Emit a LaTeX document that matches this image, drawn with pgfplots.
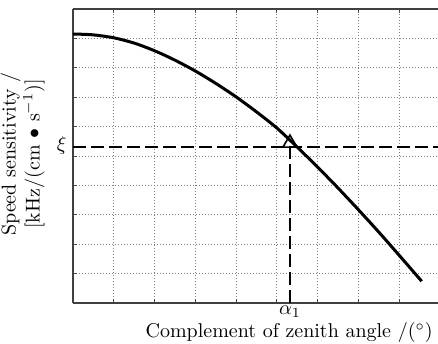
\documentclass[border=0pt]{standalone}
\usepackage{pgfplots}
\pgfplotsset{compat=1.18}
\begin{document}
\begin{tikzpicture}
\begin{axis}[
  name=ax,
  scale only axis, width=182.5pt, height=147pt,
  xmin=0, xmax=8.95, ymin=0, ymax=10,
  axis x line*=box, axis y line*=left,
  xtick={0,...,8}, ytick={0,...,10},
  xticklabels={}, yticklabels={},
  tick align=inside, major tick length=2pt,
  tick style={black!70, line width=0.5pt},
  grid=major,
  major grid style={black!50, line width=0.45pt, dash pattern=on 0.5pt off 1pt},
  axis line style={black!75, line width=0.6pt},
  clip=false,
  xlabel={Complement of zenith angle /($^{\circ}$)},
  xlabel style={at={(axis description cs:0.592,0)}, anchor=north, yshift=-6.2pt},
  ylabel={Speed sensitivity /\\{[}kHz/(cm $\bullet$ s$^{-1}$)]},
  ylabel style={align=center, at={(axis description cs:-0.0586,0.507)}, anchor=south, rotate=0},
]
\addplot[black, line width=1.5pt, smooth] coordinates {
(0,9.15) (0.5,9.12) (1.0,9.02) (1.5,8.84) (2.0,8.58) (2.5,8.26) (3.0,7.89)
(3.5,7.47) (4.0,7.01) (4.5,6.50) (5.0,5.95) (5.5,5.30) (6.0,4.62) (6.5,3.91)
(7.0,3.17) (7.5,2.41) (8.0,1.62) (8.55,0.74)
};
\addplot[black, line width=0.8pt, dash pattern=on 6.5pt off 2.5pt] coordinates {(0,5.31) (8.95,5.31)};
\addplot[black, line width=0.8pt, dash pattern=on 6.5pt off 2.5pt] coordinates {(5.32,0) (5.32,5.31)};
\addplot[black, only marks, mark=triangle, mark size=4pt, mark options={line width=0.8pt}] coordinates {(5.32,5.44)};
\node[anchor=east, inner sep=0pt, xshift=-3pt] at (axis cs:0,5.36) {$\xi$};
\node[anchor=north, inner sep=0pt, yshift=-1pt] at (axis cs:5.32,0) {$\alpha_1$};
\end{axis}
\pgfresetboundingbox
\path ([xshift=-36.5pt,yshift=-20pt]ax.south west) rectangle ([yshift=4.5pt]ax.north east);
\end{tikzpicture}
\end{document}
